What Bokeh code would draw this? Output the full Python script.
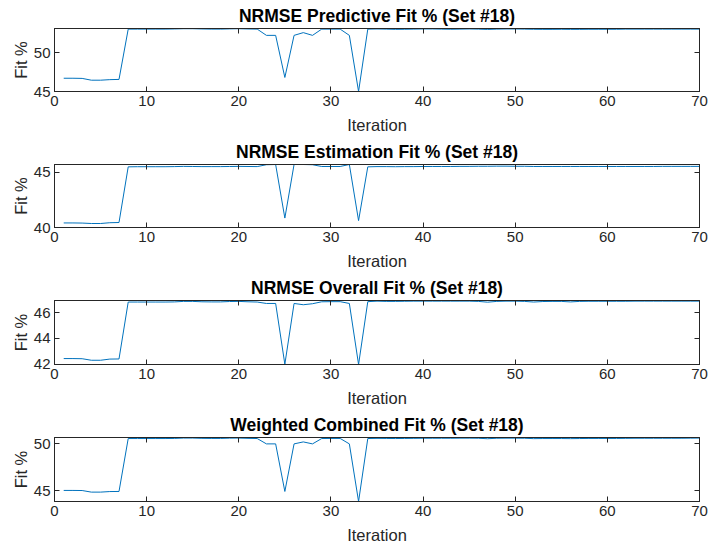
from bokeh.plotting import figure
from bokeh.layouts import column
from bokeh.models import LinearAxis, FixedTicker, Range1d, ColumnDataSource
from bokeh.embed import file_html
from bokeh.resources import INLINE

iterations = list(range(1, 71))

predictive = [46.70, 46.70, 46.68, 46.45, 46.45, 46.52, 46.55, 53.00, 53.00, 53.00,
              53.00, 53.00, 53.02, 53.05, 53.05, 53.02, 53.00, 53.00, 53.03, 53.05,
              53.02, 53.00, 52.20, 52.20, 46.80, 52.20, 52.55, 52.20, 53.00, 53.00,
              53.00, 52.20, 45.00, 53.00, 53.02, 53.00, 52.97, 52.98, 53.00, 53.02,
              53.02, 53.00, 52.98, 53.00, 53.02, 53.00, 52.96, 53.00, 53.02, 53.02,
              53.00, 52.98, 52.97, 52.97, 52.98, 52.97, 52.97, 52.98, 52.98, 52.98,
              52.98, 53.00, 53.00, 53.00, 53.00, 53.00, 53.00, 53.00, 53.00, 53.00]

estimation = [40.41, 40.41, 40.40, 40.36, 40.36, 40.43, 40.45, 45.47, 45.48, 45.48,
              45.48, 45.48, 45.49, 45.51, 45.50, 45.49, 45.49, 45.49, 45.50, 45.51,
              45.50, 45.49, 45.66, 45.68, 40.85, 45.68, 45.68, 45.66, 45.50, 45.50,
              45.50, 45.68, 40.62, 45.47, 45.49, 45.49, 45.48, 45.49, 45.49, 45.50,
              45.50, 45.50, 45.50, 45.51, 45.51, 45.52, 45.52, 45.53, 45.53, 45.52,
              45.52, 45.50, 45.50, 45.50, 45.50, 45.50, 45.50, 45.50, 45.50, 45.50,
              45.50, 45.50, 45.50, 45.50, 45.50, 45.51, 45.51, 45.51, 45.51, 45.51]

overall = [42.44, 42.44, 42.43, 42.31, 42.31, 42.40, 42.41, 46.83, 46.83, 46.83,
           46.83, 46.83, 46.84, 46.88, 46.88, 46.85, 46.84, 46.84, 46.87, 46.88,
           46.85, 46.83, 46.72, 46.72, 42.00, 46.72, 46.62, 46.70, 46.85, 46.86,
           46.86, 46.72, 41.98, 46.86, 46.90, 46.88, 46.88, 46.89, 46.90, 46.90,
           46.90, 46.90, 46.90, 46.90, 46.90, 46.88, 46.82, 46.88, 46.90, 46.90,
           46.88, 46.83, 46.87, 46.88, 46.88, 46.84, 46.88, 46.89, 46.89, 46.89,
           46.89, 46.89, 46.90, 46.90, 46.90, 46.90, 46.90, 46.90, 46.90, 46.90]

weighted = [45.04, 45.04, 45.03, 44.86, 44.86, 44.92, 44.93, 50.57, 50.57, 50.57,
            50.57, 50.57, 50.58, 50.62, 50.62, 50.59, 50.58, 50.58, 50.61, 50.62,
            50.59, 50.57, 50.00, 50.00, 44.93, 50.00, 50.21, 50.00, 50.57, 50.58,
            50.58, 50.00, 43.86, 50.57, 50.59, 50.58, 50.57, 50.58, 50.59, 50.60,
            50.60, 50.60, 50.60, 50.61, 50.61, 50.60, 50.55, 50.60, 50.61, 50.61,
            50.60, 50.56, 50.57, 50.57, 50.57, 50.56, 50.57, 50.58, 50.58, 50.58,
            50.58, 50.59, 50.60, 50.60, 50.60, 50.60, 50.60, 50.60, 50.61, 50.62]

titles = ["NRMSE Predictive Fit % (Set #18)",
          "NRMSE Estimation Fit % (Set #18)",
          "NRMSE Overall Fit % (Set #18)",
          "Weighted Combined Fit % (Set #18)"]
y_limits = [(45.0, 53.08), (40.0, 45.68), (41.98, 46.95), (43.86, 50.68)]
y_ticks = [[45, 50], [40, 45], [42, 44, 46], [45, 50]]
x_ticks = [0, 10, 20, 30, 40, 50, 60, 70]
series = [predictive, estimation, overall, weighted]

fig_heights = [136, 136, 137, 139]
frame_tops = [28, 28, 28, 28]
frame_heights = [63, 64, 64, 64]

FONT = "Liberation Sans"
AX = "#262626"
LINE = "#0072BD"

figs = []
for i in range(4):
    h = fig_heights[i]
    p = figure(width=709, height=h, output_backend="svg", toolbar_location=None,
               x_range=Range1d(0, 70), y_range=Range1d(*y_limits[i]),
               min_border_left=54, min_border_right=10,
               min_border_top=frame_tops[i],
               min_border_bottom=h - frame_tops[i] - frame_heights[i],
               title=titles[i])
    p.title.text_font = FONT
    p.title.text_font_size = "17.5px"
    p.title.text_font_style = "bold"
    p.title.text_color = "#000000"
    p.title.align = "center"
    p.title.standoff = 5
    p.outline_line_color = AX
    p.outline_line_width = 1
    p.xgrid.visible = False
    p.ygrid.visible = False
    p.background_fill_color = "white"
    p.border_fill_color = "white"

    src = ColumnDataSource(dict(x=iterations, y=series[i]))
    p.line("x", "y", source=src, line_color=LINE, line_width=1)

    xa = p.xaxis[0]
    xa.ticker = FixedTicker(ticks=x_ticks)
    xa.axis_label = "Iteration"
    ya = p.yaxis[0]
    ya.ticker = FixedTicker(ticks=y_ticks[i])
    ya.axis_label = "Fit %"
    for ax in (xa, ya):
        ax.major_tick_in = 5
        ax.major_tick_out = 0
        ax.minor_tick_line_color = None
        ax.axis_line_color = AX
        ax.major_tick_line_color = AX
        ax.major_label_text_font = FONT
        ax.major_label_text_font_size = "15px"
        ax.major_label_text_color = AX
        ax.axis_label_text_font = FONT
        ax.axis_label_text_font_size = "16.5px"
        ax.axis_label_text_font_style = "normal"
        ax.axis_label_text_color = AX
    xa.major_label_standoff = 4
    xa.axis_label_standoff = 7
    ya.major_label_standoff = 4
    ya.axis_label_standoff = 1

    top = LinearAxis(ticker=FixedTicker(ticks=x_ticks))
    right = LinearAxis(ticker=FixedTicker(ticks=y_ticks[i]))
    for ax in (top, right):
        ax.major_tick_in = 5
        ax.major_tick_out = 0
        ax.minor_tick_line_color = None
        ax.axis_line_color = AX
        ax.major_tick_line_color = AX
        ax.major_label_text_font_size = "1px"
        ax.major_label_text_color = None
        ax.major_label_standoff = 0
        ax.axis_label = None
    p.add_layout(top, "above")
    p.add_layout(right, "right")
    figs.append(p)

layout = column(*figs, spacing=0)
open("out.html", "w").write(file_html(layout, INLINE))
